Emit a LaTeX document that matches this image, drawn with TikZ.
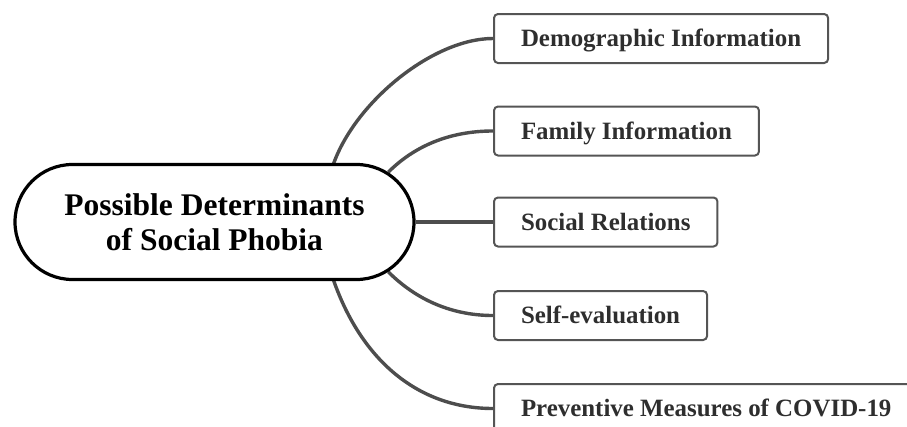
\documentclass[tikz,border=0pt]{standalone}
\usepackage{fontspec}
\setmainfont{Liberation Serif}
\usetikzlibrary{shapes.misc}
\definecolor{linegray}{HTML}{4D4D4D}
\definecolor{boxgray}{HTML}{555555}
\definecolor{boxtext}{HTML}{2E2E2E}
\pgfdeclarelayer{background}
\pgfsetlayers{background,main}
\begin{document}
\begin{tikzpicture}[x=1pt,y=-1pt,
  central/.style={rounded rectangle, draw=black, line width=3.2pt, fill=white,
    minimum width=399pt, minimum height=115pt, inner sep=0pt, align=center,
    font=\fontsize{31.5}{35.5}\selectfont\bfseries, text=black},
  leaf/.style={draw=boxgray, line width=2pt, rounded corners=4pt, fill=white,
    anchor=west, minimum height=49pt, inner xsep=27pt, inner ysep=0pt,
    text height=16.5pt, text depth=0pt,
    font=\fontsize{24.9}{28}\selectfont\bfseries, text=boxtext},
  link/.style={draw=linegray, line width=3.4pt}]
\useasboundingbox (0,0) rectangle (907,426);
\node[central] (c) at (214.5,222) {Possible Determinants\\of Social Phobia};
\node[leaf] (d) at (493,38.5) {Demographic Information};
\node[leaf] (f) at (493,131) {Family Information};
\node[leaf] (s) at (493,222) {Social Relations};
\node[leaf] (e) at (493,315.5) {Self-evaluation};
\node[leaf] (p) at (493,408.5) {Preventive Measures of COVID-19};
\coordinate (c1) at ([xshift=-23pt,yshift=-1pt]c.north east);
\coordinate (c5) at ([xshift=-23pt,yshift=1pt]c.south east);
\begin{pgfonlayer}{background}
\draw[link] (c1) .. controls +(22,-62) and +(-60,0) .. (d.west);
\draw[link] (c.16) .. controls +(25,-25) and +(-45,0) .. (f.west);
\draw[link] (c.east) -- (s.west);
\draw[link] (c.-16) .. controls +(25,25) and +(-45,0) .. (e.west);
\draw[link] (c5) .. controls +(28,80) and +(-75,0) .. (p.west);
\end{pgfonlayer}
\end{tikzpicture}
\end{document}
